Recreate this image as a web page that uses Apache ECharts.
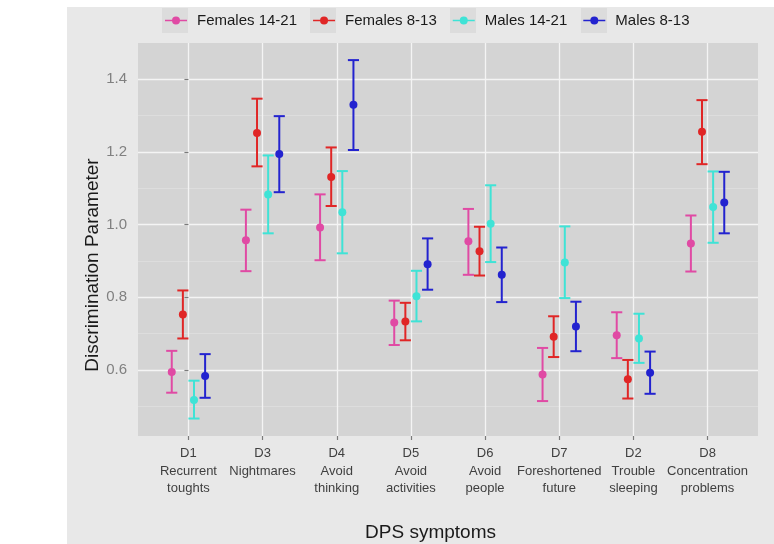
<!DOCTYPE html>
<html>
<head>
<meta charset="utf-8">
<script src="https://cdn.jsdelivr.net/npm/echarts@6/dist/echarts.min.js"></script>
<style>
  html, body { margin: 0; padding: 0; background: #ffffff; }
  #chart { position: absolute; left: 67px; top: 7px; width: 707px; height: 537px; }
</style>
</head>
<body>
<div id="chart"></div>
<script>
// Symptom codes and descriptions, in plotting order
const codes = ['D1', 'D3', 'D4', 'D5', 'D6', 'D7', 'D2', 'D8'];
const descriptions = ['Recurrent\ntoughts', 'Nightmares', 'Avoid\nthinking', 'Avoid\nactivities',
  'Avoid\npeople', 'Foreshortened\nfuture', 'Trouble\nsleeping', 'Concentration\nproblems'];

const groups = ['Females 14-21', 'Females 8-13', 'Males 14-21', 'Males 8-13'];
const groupColors = ['#e04aa4', '#e02626', '#3fe3d6', '#2323cf'];

// Discrimination estimates with lower / upper interval bounds per group
const f1421Est = [0.595, 0.957, 0.992, 0.731, 0.954, 0.588, 0.696, 0.948];
const f1421Lo  = [0.538, 0.872, 0.902, 0.669, 0.862, 0.515, 0.633, 0.871];
const f1421Hi  = [0.653, 1.041, 1.083, 0.791, 1.043, 0.661, 0.759, 1.025];

const f813Est = [0.753, 1.252, 1.131, 0.734, 0.927, 0.692, 0.575, 1.255];
const f813Lo  = [0.687, 1.160, 1.051, 0.682, 0.860, 0.636, 0.522, 1.166];
const f813Hi  = [0.819, 1.346, 1.212, 0.785, 0.994, 0.748, 0.628, 1.342];

const m1421Est = [0.518, 1.083, 1.034, 0.803, 1.002, 0.896, 0.687, 1.048];
const m1421Lo  = [0.467, 0.976, 0.921, 0.734, 0.897, 0.798, 0.620, 0.950];
const m1421Hi  = [0.571, 1.190, 1.147, 0.873, 1.108, 0.995, 0.755, 1.146];

const m813Est = [0.584, 1.194, 1.329, 0.891, 0.862, 0.720, 0.593, 1.061];
const m813Lo  = [0.524, 1.089, 1.205, 0.821, 0.787, 0.652, 0.535, 0.976];
const m813Hi  = [0.644, 1.298, 1.452, 0.962, 0.937, 0.788, 0.651, 1.145];

const yTicks = [0.6, 0.8, 1.0, 1.2, 1.4];
const yMinorTicks = [0.5, 0.7, 0.9, 1.1, 1.3];

const groupData = [
  [f1421Est, f1421Lo, f1421Hi],
  [f813Est, f813Lo, f813Hi],
  [m1421Est, m1421Lo, m1421Hi],
  [m813Est, m813Lo, m813Hi]
];

// dodge offsets (in category units) for the four groups
const dodge = [-0.225, -0.075, 0.075, 0.225];
const capWidth = 0.15;

const FONT = '"Liberation Sans", Arial, Helvetica, sans-serif';
const legendIcon = 'path://M0,3.3 H22 V4.7 H0 Z M15,4 A4,4 0 1 1 7,4 A4,4 0 1 1 15,4 Z';

function errorBarItem(color) {
  return function (params, api) {
    const x = api.value(0);
    const est = api.value(1);
    const lo = api.value(2);
    const hi = api.value(3);
    const pEst = api.coord([x, est]);
    const pLo = api.coord([x, lo]);
    const pHi = api.coord([x, hi]);
    const half = api.size([capWidth, 0])[0] / 2;
    const stroke = { stroke: color, lineWidth: 2 };
    return {
      type: 'group',
      children: [
        { type: 'line', shape: { x1: pLo[0], y1: pLo[1], x2: pHi[0], y2: pHi[1] }, style: stroke },
        { type: 'line', shape: { x1: pHi[0] - half, y1: pHi[1], x2: pHi[0] + half, y2: pHi[1] }, style: stroke },
        { type: 'line', shape: { x1: pLo[0] - half, y1: pLo[1], x2: pLo[0] + half, y2: pLo[1] }, style: stroke },
        { type: 'circle', shape: { cx: pEst[0], cy: pEst[1], r: 4 }, style: { fill: color } }
      ]
    };
  };
}

const series = groups.map(function (name, g) {
  const [est, lo, hi] = groupData[g];
  return {
    name: name,
    type: 'custom',
    xAxisIndex: 0,
    yAxisIndex: 0,
    itemStyle: { color: groupColors[g] },
    renderItem: errorBarItem(groupColors[g]),
    encode: { x: 0, y: [1, 2, 3] },
    data: est.map(function (v, i) { return [i + dodge[g], v, lo[i], hi[i]]; }),
    z: 3
  };
});

const catIndex = codes.map(function (c, i) { return i; });

const chart = echarts.init(document.getElementById('chart'), null, { renderer: 'canvas' });
chart.setOption({
  backgroundColor: '#e8e8e8',
  animation: false,
  textStyle: { fontFamily: FONT },
  legend: {
    left: 98,
    top: 6,
    padding: 0,
    itemWidth: 22,
    itemHeight: 8,
    itemGap: 16,
    textStyle: { fontSize: 15, color: '#1a1a1a', fontFamily: FONT, padding: [0, 0, 0, 5] },
    data: groups.map(function (n) { return { name: n, icon: legendIcon }; })
  },
  graphic: [0, 1, 2, 3].map(function (k) {
    const xs = [95, 243, 383, 514];
    return { type: 'rect', left: xs[k], top: 1, z: -1, silent: true,
      shape: { width: 26, height: 25 }, style: { fill: '#dcdcdc' } };
  }),
  grid: {
    left: 71, top: 36, right: 16, bottom: 108,
    outerBoundsMode: 'none',
    containLabel: false,
    show: true, backgroundColor: '#d4d4d4', borderWidth: 0
  },
  xAxis: {
    type: 'value',
    min: -0.68, max: 7.68,
    name: 'DPS symptoms',
    nameLocation: 'middle',
    nameGap: 87,
    nameMoveOverlap: false,
    nameTextStyle: { fontSize: 19, color: '#1a1a1a', fontFamily: FONT, padding: [0, 35, 0, 0] },
    axisLine: { show: false },
    axisTick: { show: true, length: 4, customValues: catIndex, lineStyle: { color: '#7a7a7a', width: 1.2 } },
    axisLabel: {
      customValues: catIndex,
      margin: 9,
      fontSize: 13,
      lineHeight: 17.5,
      color: '#404040',
      fontFamily: FONT,
      formatter: function (v) { const i = Math.round(v); return codes[i] + '\n' + descriptions[i]; }
    },
    splitLine: { show: true, lineStyle: { color: '#f4f4f4', width: 1.3 } }
  },
  yAxis: [{
    type: 'value',
    min: 0.419, max: 1.499,
    name: 'Discrimination Parameter',
    nameLocation: 'middle',
    nameGap: 36,
    nameMoveOverlap: false,
    nameTextStyle: { fontSize: 19, color: '#1a1a1a', fontFamily: FONT, padding: [0, 51, 0, 0] },
    axisLine: { show: false },
    axisTick: { show: true, length: 4, customValues: yTicks, lineStyle: { color: '#7a7a7a', width: 1.2 } },
    axisLabel: {
      customValues: yTicks,
      margin: 11,
      fontSize: 15,
      color: '#808080',
      fontFamily: FONT,
      formatter: function (v) { return v.toFixed(1); }
    },
    splitLine: { show: true, lineStyle: { color: '#f4f4f4', width: 1.3 } }
  }, {
    type: 'value',
    min: 0.419, max: 1.499,
    position: 'left',
    axisLine: { show: false },
    axisTick: { show: false, customValues: yMinorTicks },
    axisLabel: { show: false, customValues: yMinorTicks },
    splitLine: { show: true, lineStyle: { color: '#e0e0e0', width: 0.8 } }
  }],
  series: series
});
</script>
</body>
</html>
